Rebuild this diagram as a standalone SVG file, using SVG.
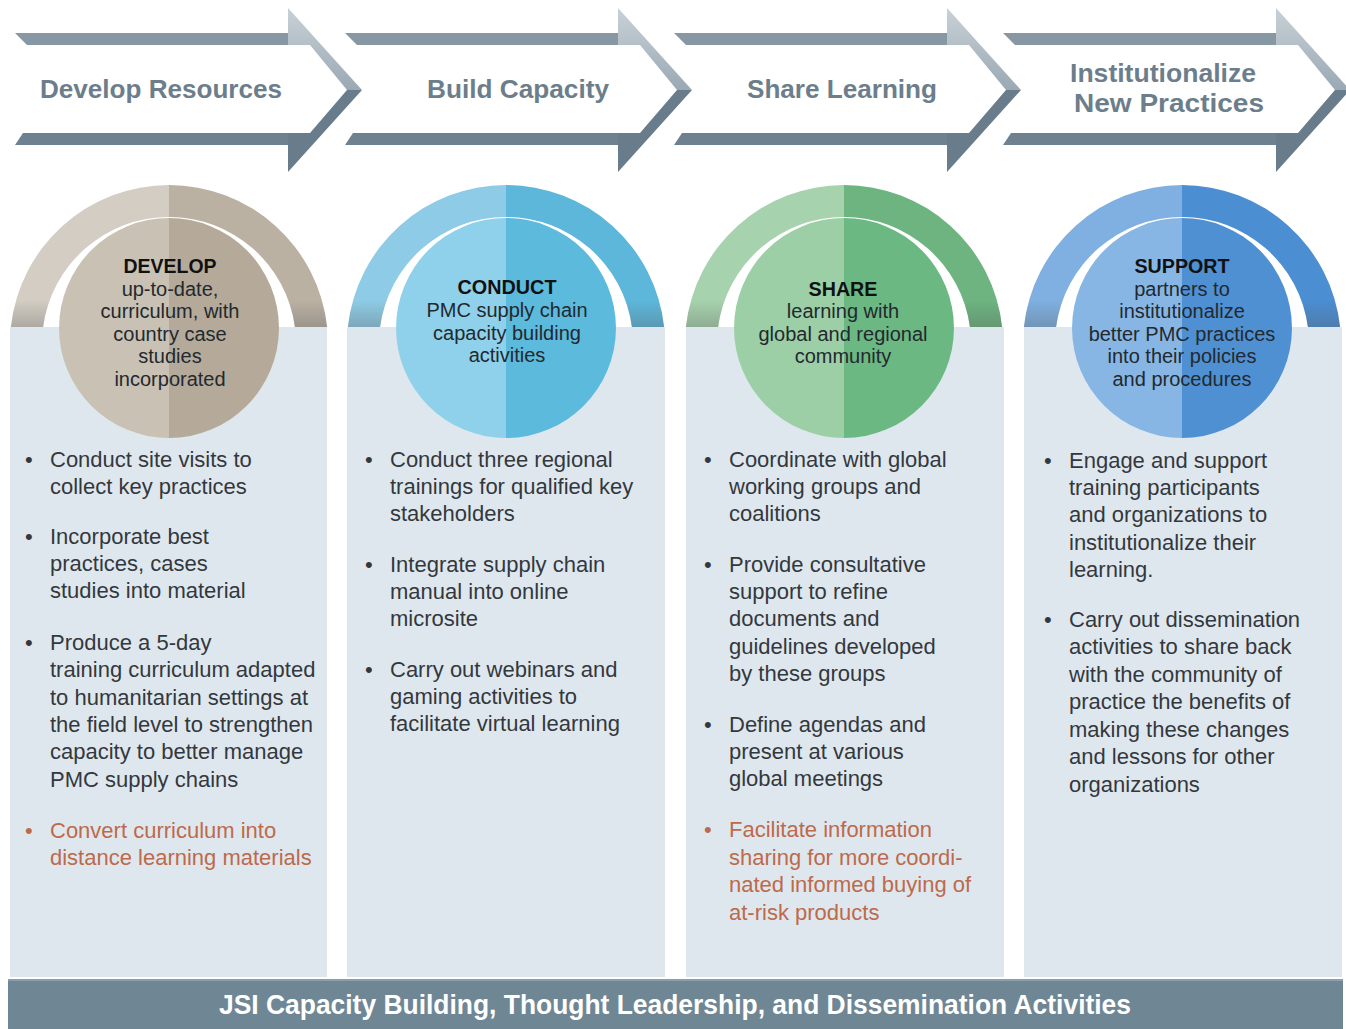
<svg xmlns="http://www.w3.org/2000/svg" xmlns:xlink="http://www.w3.org/1999/xlink" width="1346" height="1029" viewBox="0 0 1346 1029">
<style>
text{font-family:"Liberation Sans",Arial,sans-serif}
.lbl{font-weight:bold;fill:#6c7e8b;font-size:26px;text-anchor:middle}
.ct{font-size:20px;fill:#22292f;text-anchor:middle}
.ctt{font-size:20px;font-weight:bold;fill:#111;text-anchor:middle}
.b{font-size:22px;fill:#33383d}
.o{fill:#bd6a4b}
.bar{fill:#fff;font-weight:bold;font-size:27px;text-anchor:middle}
.panel{fill:#dfe7ee}
</style>
<defs>
<linearGradient id="upArm" x1="0" y1="0" x2="0" y2="1">
<stop offset="0" stop-color="#c9d1d7"/><stop offset="1" stop-color="#9aa9b4"/>
</linearGradient>
<linearGradient id="shade" gradientUnits="userSpaceOnUse" x1="0" y1="300" x2="0" y2="327">
<stop offset="0" stop-color="#555" stop-opacity="0"/><stop offset="1" stop-color="#555" stop-opacity="0.3"/>
</linearGradient>
<g id="arrowShape">
<polygon points="15,33 300,33 310,45 27,45" fill="#8797a3"/>
<polygon points="23,133 300,133 300,145 15,145" fill="#6d8190"/>
<polygon points="288,8 362,90 347,90 310,45 288,45" fill="url(#upArm)"/>
<polygon points="288,172 362,90 347,90 310,133 288,133" fill="#687c8b"/>
</g>
<path id="ringL" d="M-158.1,327 A159,159 0 0 1 0,185 L0,217 A127,127 0 0 0 -125.9,327 Z"/>
<path id="ringR" d="M0,185 A159,159 0 0 1 158.1,327 L125.9,327 A127,127 0 0 0 0,217 Z"/>
<path id="ring" d="M-158.1,327 A159,159 0 0 1 158.1,327 L125.9,327 A127,127 0 0 0 -125.9,327 Z"/>
<path id="circL" d="M0,218 A110,110 0 0 0 0,438 Z"/>
<path id="circR" d="M0,218 A110,110 0 0 1 0,438 Z"/>
</defs>
<rect x="0" y="0" width="1346" height="1029" fill="#ffffff"/>

<g id="panels">
<rect class="panel" x="10" y="327" width="317" height="650"/>
<rect class="panel" x="347" y="327" width="318" height="650"/>
<rect class="panel" x="686" y="327" width="318" height="650"/>
<rect class="panel" x="1024" y="327" width="318" height="650"/>
</g>

<g id="arrow-develop">
<use xlink:href="#arrowShape"/>
<text class="lbl" x="161" y="98" textLength="242" lengthAdjust="spacingAndGlyphs">Develop Resources</text>
</g>
<g id="arrow-build">
<use xlink:href="#arrowShape" transform="translate(330,0)"/>
<text class="lbl" x="518" y="98" textLength="182" lengthAdjust="spacingAndGlyphs">Build Capacity</text>
</g>
<g id="arrow-share">
<use xlink:href="#arrowShape" transform="translate(659,0)"/>
<text class="lbl" x="842" y="98" textLength="190" lengthAdjust="spacingAndGlyphs">Share Learning</text>
</g>
<g id="arrow-institutionalize">
<use xlink:href="#arrowShape" transform="translate(988,0)"/>
<text class="lbl" x="1163" y="82" textLength="186" lengthAdjust="spacingAndGlyphs">Institutionalize</text>
<text class="lbl" x="1169" y="112" textLength="190" lengthAdjust="spacingAndGlyphs">New Practices</text>
</g>

<g id="node-develop">
<g transform="translate(169,0)">
<use xlink:href="#ringL" fill="#d3cdc3"/>
<use xlink:href="#ringR" fill="#bbb1a3"/>
<use xlink:href="#ring" fill="url(#shade)"/>
<use xlink:href="#circL" fill="#c9c1b4"/>
<use xlink:href="#circR" fill="#b5aa9a"/>
</g>
<text class="ctt" x="170" y="273" textLength="93" lengthAdjust="spacingAndGlyphs">DEVELOP</text>
<text class="ct" x="170" y="296">up-to-date,</text>
<text class="ct" x="170" y="318">curriculum, with</text>
<text class="ct" x="170" y="341">country case</text>
<text class="ct" x="170" y="363">studies</text>
<text class="ct" x="170" y="386">incorporated</text>
</g>

<g id="node-conduct">
<g transform="translate(506,0)">
<use xlink:href="#ringL" fill="#8ecbe6"/>
<use xlink:href="#ringR" fill="#5db7db"/>
<use xlink:href="#ring" fill="url(#shade)"/>
<use xlink:href="#circL" fill="#8fd0ea"/>
<use xlink:href="#circR" fill="#5cbadd"/>
</g>
<text class="ctt" x="507" y="294" textLength="99" lengthAdjust="spacingAndGlyphs">CONDUCT</text>
<text class="ct" x="507" y="317">PMC supply chain</text>
<text class="ct" x="507" y="340">capacity building</text>
<text class="ct" x="507" y="362">activities</text>
</g>

<g id="node-share">
<g transform="translate(844,0)">
<use xlink:href="#ringL" fill="#a7d2ae"/>
<use xlink:href="#ringR" fill="#6db480"/>
<use xlink:href="#ring" fill="url(#shade)"/>
<use xlink:href="#circL" fill="#9ccfa6"/>
<use xlink:href="#circR" fill="#6cb882"/>
</g>
<text class="ctt" x="843" y="296" textLength="69" lengthAdjust="spacingAndGlyphs">SHARE</text>
<text class="ct" x="843" y="318">learning with</text>
<text class="ct" x="843" y="341">global and regional</text>
<text class="ct" x="843" y="363">community</text>
</g>

<g id="node-support">
<g transform="translate(1182,0)">
<use xlink:href="#ringL" fill="#7fb0e1"/>
<use xlink:href="#ringR" fill="#4b8ed2"/>
<use xlink:href="#ring" fill="url(#shade)"/>
<use xlink:href="#circL" fill="#87b6e4"/>
<use xlink:href="#circR" fill="#4f90d3"/>
</g>
<text class="ctt" x="1182" y="273" textLength="95" lengthAdjust="spacingAndGlyphs">SUPPORT</text>
<text class="ct" x="1182" y="296">partners to</text>
<text class="ct" x="1182" y="318">institutionalize</text>
<text class="ct" x="1182" y="341">better PMC practices</text>
<text class="ct" x="1182" y="363">into their policies</text>
<text class="ct" x="1182" y="386">and procedures</text>
</g>

<g id="list-develop">
<text class="b" x="25" y="467">•</text>
<text class="b" x="50" y="467">Conduct site visits to</text>
<text class="b" x="50" y="494">collect key practices</text>
<text class="b" x="25" y="544">•</text>
<text class="b" x="50" y="544">Incorporate best</text>
<text class="b" x="50" y="571">practices, cases</text>
<text class="b" x="50" y="598">studies into material</text>
<text class="b" x="25" y="650">•</text>
<text class="b" x="50" y="650">Produce a 5-day</text>
<text class="b" x="50" y="677">training curriculum adapted</text>
<text class="b" x="50" y="705">to humanitarian settings at</text>
<text class="b" x="50" y="732">the field level to strengthen</text>
<text class="b" x="50" y="759">capacity to better manage</text>
<text class="b" x="50" y="787">PMC supply chains</text>
<text class="b o" x="25" y="838">•</text>
<text class="b o" x="50" y="838">Convert curriculum into</text>
<text class="b o" x="50" y="865">distance learning materials</text>
</g>

<g id="list-conduct">
<text class="b" x="365" y="467">•</text>
<text class="b" x="390" y="467">Conduct three regional</text>
<text class="b" x="390" y="494">trainings for qualified key</text>
<text class="b" x="390" y="521">stakeholders</text>
<text class="b" x="365" y="572">•</text>
<text class="b" x="390" y="572">Integrate supply chain</text>
<text class="b" x="390" y="599">manual into online</text>
<text class="b" x="390" y="626">microsite</text>
<text class="b" x="365" y="677">•</text>
<text class="b" x="390" y="677">Carry out webinars and</text>
<text class="b" x="390" y="704">gaming activities  to</text>
<text class="b" x="390" y="731">facilitate virtual learning</text>
</g>

<g id="list-share">
<text class="b" x="704" y="467">•</text>
<text class="b" x="729" y="467">Coordinate with global</text>
<text class="b" x="729" y="494">working groups and</text>
<text class="b" x="729" y="521">coalitions</text>
<text class="b" x="704" y="572">•</text>
<text class="b" x="729" y="572">Provide consultative</text>
<text class="b" x="729" y="599">support to refine</text>
<text class="b" x="729" y="626">documents and</text>
<text class="b" x="729" y="654">guidelines developed</text>
<text class="b" x="729" y="681">by these groups</text>
<text class="b" x="704" y="732">•</text>
<text class="b" x="729" y="732">Define agendas and</text>
<text class="b" x="729" y="759">present at various</text>
<text class="b" x="729" y="786">global meetings</text>
<text class="b o" x="704" y="837">•</text>
<text class="b o" x="729" y="837">Facilitate information</text>
<text class="b o" x="729" y="865">sharing for more coordi-</text>
<text class="b o" x="729" y="892">nated informed buying of</text>
<text class="b o" x="729" y="920">at-risk products</text>
</g>

<g id="list-support">
<text class="b" x="1044" y="468">•</text>
<text class="b" x="1069" y="468">Engage and support</text>
<text class="b" x="1069" y="495">training participants</text>
<text class="b" x="1069" y="522">and organizations to</text>
<text class="b" x="1069" y="550">institutionalize their</text>
<text class="b" x="1069" y="577">learning.</text>
<text class="b" x="1044" y="627">•</text>
<text class="b" x="1069" y="627">Carry out dissemination</text>
<text class="b" x="1069" y="654">activities to share back</text>
<text class="b" x="1069" y="682">with the community of</text>
<text class="b" x="1069" y="709">practice the benefits of</text>
<text class="b" x="1069" y="737">making these changes</text>
<text class="b" x="1069" y="764">and lessons for other</text>
<text class="b" x="1069" y="792">organizations</text>
</g>

<g id="footer-bar">
<rect x="8" y="979" width="1335" height="50" fill="#6f8695"/>
<rect x="8" y="979" width="1335" height="2" fill="#8a9eab"/>
<text class="bar" x="675" y="1014" textLength="912" lengthAdjust="spacingAndGlyphs">JSI Capacity Building, Thought Leadership, and Dissemination Activities</text>
</g>

<g id="connectors"></g>
</svg>
